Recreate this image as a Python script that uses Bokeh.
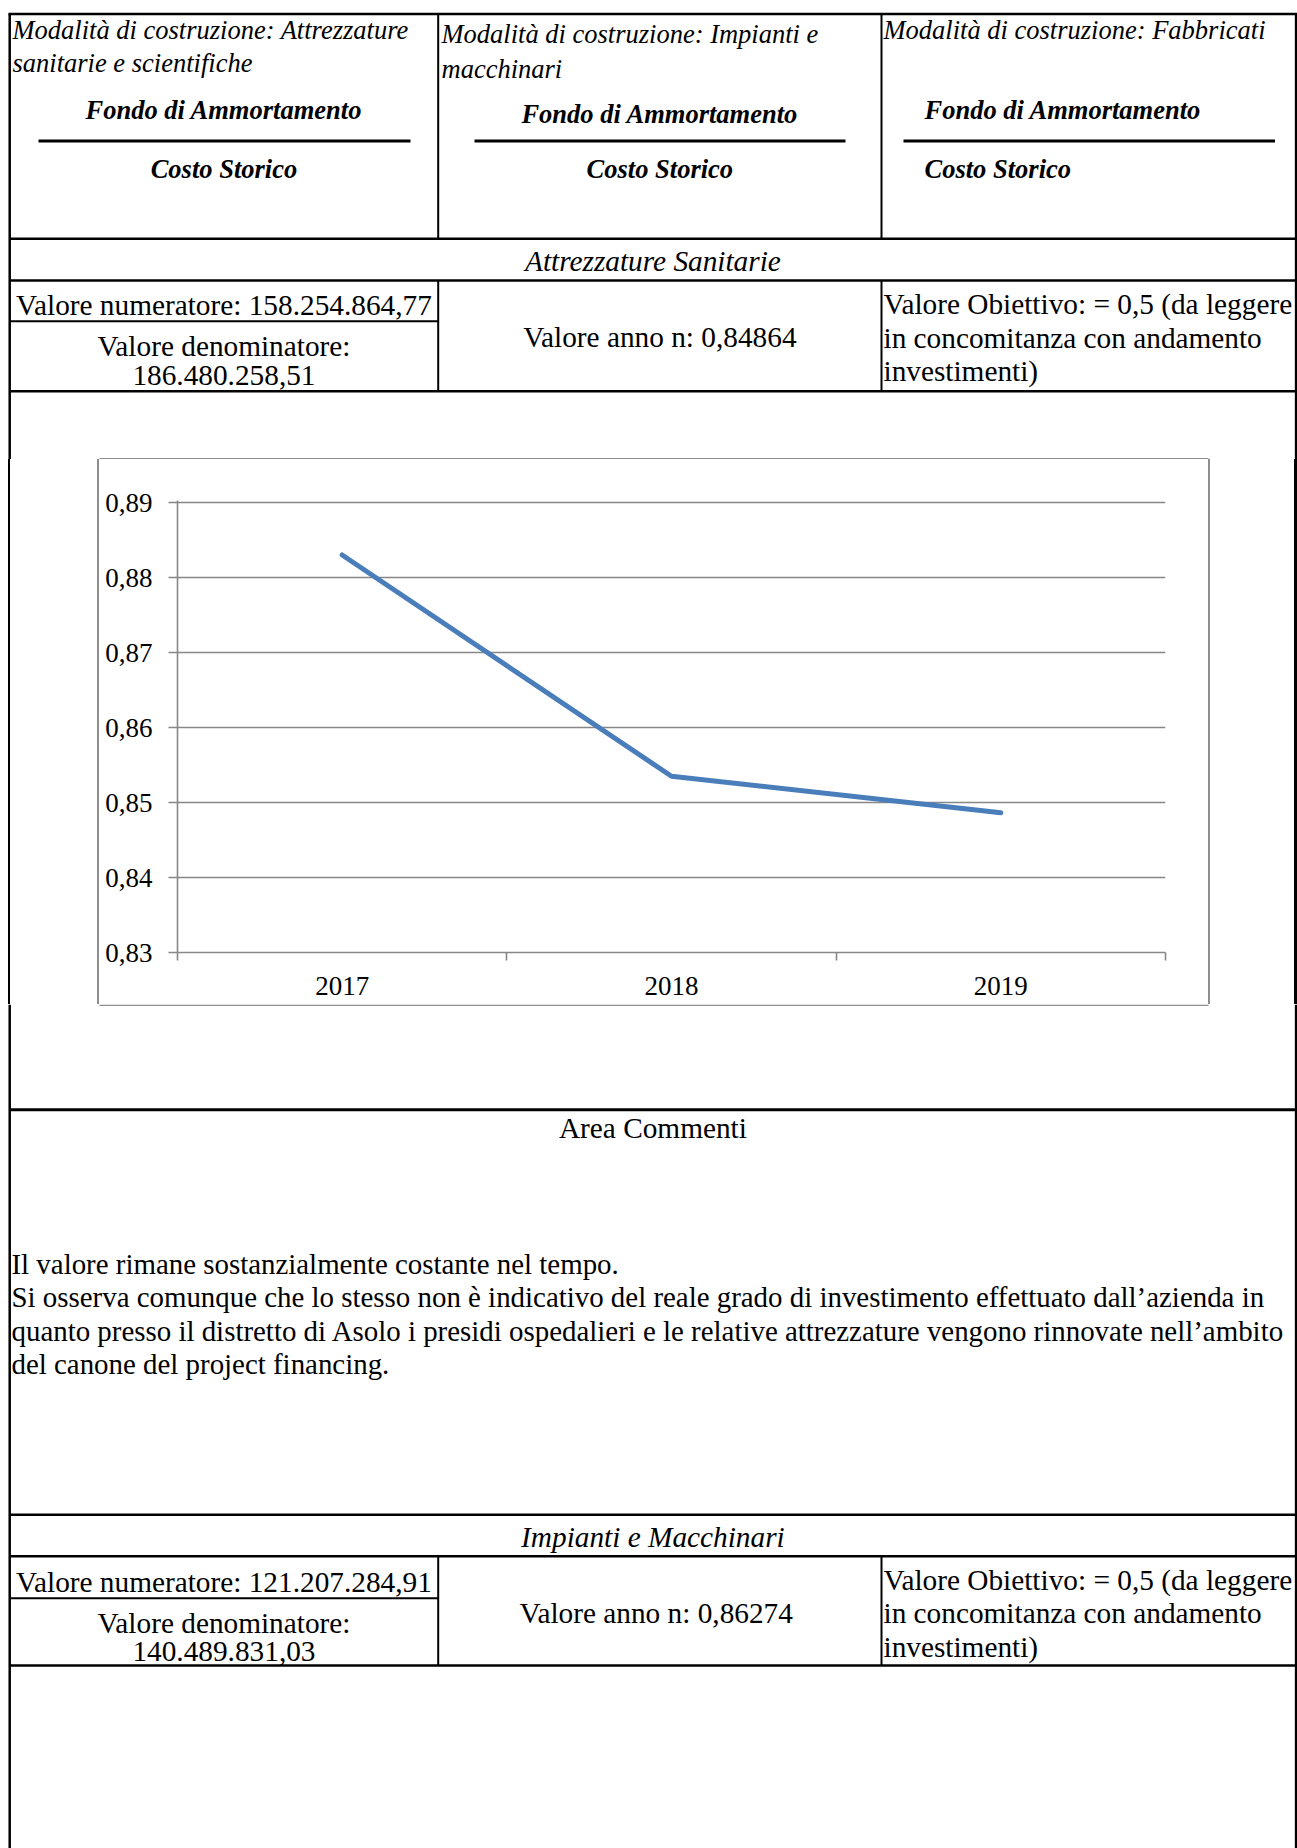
from bokeh.plotting import figure
from bokeh.layouts import column, row
from bokeh.models import Range1d, FixedTicker, CustomJSTickFormatter, ColumnDataSource, Div
from bokeh.core.properties import value
from bokeh.embed import file_html
from bokeh.resources import INLINE
import numpy as np

# ---------------- data ----------------
years = ["2017", "2018", "2019"]
ratio = [0.8830, 0.8535, 0.84864]
y_ticks = [0.83, 0.84, 0.85, 0.86, 0.87, 0.88, 0.89]

header_col1 = ["Modalità di costruzione: Attrezzature", "sanitarie e scientifiche"]
header_col2 = ["Modalità  di  costruzione:  Impianti  e", "macchinari"]
header_col3 = ["Modalità di costruzione: Fabbricati"]
numerator_label = "Fondo di Ammortamento"
denominator_label = "Costo Storico"

section_1 = "Attrezzature Sanitarie"
num_1 = "Valore numeratore: 158.254.864,77"
den_1 = ["Valore denominatore:", "186.480.258,51"]
year_1 = "Valore anno n: 0,84864"

target_lines = ["Valore Obiettivo: = 0,5 (da leggere",
                "in concomitanza con andamento",
                "investimenti)"]

comment_title = "Area Commenti"
comment_lines = [
    "Il valore rimane sostanzialmente costante nel tempo.",
    "Si osserva comunque che lo stesso non è  indicativo del reale grado di investimento effettuato dall’azienda in",
    "quanto presso il distretto di Asolo i presidi ospedalieri e le relative attrezzature vengono rinnovate nell’ambito",
    "del canone del project financing.",
]

section_2 = "Impianti e Macchinari"
num_2 = "Valore numeratore: 121.207.284,91"
den_2 = ["Valore denominatore:", "140.489.831,03"]
year_2 = "Valore anno n:  0,86274"

# ---------------- page geometry (page pixels) ----------------
PX0, PX1, PY0, PY1 = 0, 1297, 0, 1848
BX0, BX1, BY0, BY1 = 99, 1208, 459, 1004      # chart box
XL, XR = 9.2, 1295.6                         # table outer borders
C1, C2 = 437.7, 881.0                        # column dividers
MID1 = (XL + C1) / 2
MID2 = (C1 + C2) / 2
MIDT = (XL + XR) / 2
TOFF = 9.5                                   # text baseline correction

SERIF = value("Liberation Serif")
BODY = "29.3px"
COMM = "28.9px"
HEAD = "26.5px"
GRAY = "#878787"
BOXGRAY = "#8e8e8e"


def page_fig(x0, x1, y0, y1):
    p = figure(width=int(round(x1 - x0)), height=int(round(y1 - y0)),
               x_range=Range1d(x0, x1), y_range=Range1d(y1, y0),
               x_axis_type=None, y_axis_type=None,
               toolbar_location=None, tools="", output_backend="svg",
               min_border=0, outline_line_color=None,
               background_fill_color="white", border_fill_color="white")
    p.grid.visible = False
    return p


def lines(p, segs, width, color="black"):
    src = ColumnDataSource(dict(x0=[s[0] for s in segs], y0=[s[1] for s in segs],
                                x1=[s[2] for s in segs], y1=[s[3] for s in segs]))
    p.segment(x0="x0", y0="y0", x1="x1", y1="y1", source=src,
              line_color=color, line_width=width, line_cap="butt")


def txt(p, x, y, s, size=BODY, style="normal", align="left"):
    p.text(x=[x], y=[y - TOFF], text=[s], text_font=SERIF, text_font_size=size,
           text_font_style=style, text_align=align, text_baseline="alphabetic",
           text_color="black")


# ---------------- top part ----------------
top = page_fig(PX0, PX1, PY0, BY0)
lines(top, [(XL - 1.25, 13.5, XR + 1.25, 13.5),
            (XL, 13.5, XL, BY0), (XR, 13.5, XR, BY0),
            (XL, 238.3, XR, 238.3), (XL, 280.0, XR, 280.0), (XL, 390.7, XR, 390.7)], 2.5)
lines(top, [(C1, 13.5, C1, 238.3), (C2, 13.5, C2, 238.3),
            (C1, 280.0, C1, 390.7), (C2, 280.0, C2, 390.7),
            (XL, 320.7, C1, 320.7)], 2.0)
lines(top, [(38, 140.5, 410, 140.5), (474, 140.5, 845, 140.5), (903, 140.5, 1274.5, 140.5)], 3.0)
lines(top, [(BX0, BY0 - 0.8, BX1, BY0 - 0.8)], 1.6, BOXGRAY)

# header column 1
txt(top, 12, 38.5, header_col1[0], HEAD, "italic")
txt(top, 12, 72, header_col1[1], HEAD, "italic")
txt(top, MID1, 119, numerator_label, HEAD, "bold italic", "center")
txt(top, MID1, 177.5, denominator_label, HEAD, "bold italic", "center")
# header column 2
txt(top, 441, 43, header_col2[0], HEAD, "italic")
txt(top, 441, 78, header_col2[1], HEAD, "italic")
txt(top, MID2, 123, numerator_label, HEAD, "bold italic", "center")
txt(top, MID2, 177.5, denominator_label, HEAD, "bold italic", "center")
# header column 3
txt(top, 883, 38.5, header_col3[0], HEAD, "italic")
txt(top, 924, 119, numerator_label, HEAD, "bold italic")
txt(top, 924, 177.5, denominator_label, HEAD, "bold italic")

txt(top, MIDT, 269.5, section_1, BODY, "italic", "center")
txt(top, MID1, 314, num_1, BODY, "normal", "center")
txt(top, MID1, 355, den_1[0], BODY, "normal", "center")
txt(top, MID1, 384, den_1[1], BODY, "normal", "center")
txt(top, MID2, 346, year_1, BODY, "normal", "center")
for i, s in enumerate(target_lines):
    txt(top, 883, [313, 346.5, 380][i], s)

# ---------------- chart row ----------------
left = Div(text="", width=BX0 - PX0, height=BY1 - BY0, styles={
    "background": ("linear-gradient(to right, transparent 8px, black 8px, black 10.5px, "
                   "transparent 10.5px, transparent 97.4px, %s 97.4px, %s 99px)" % (BOXGRAY, BOXGRAY)),
    "margin": "0", "padding": "0"})
right = Div(text="", width=PX1 - BX1, height=BY1 - BY0, styles={
    "background": ("linear-gradient(to right, %s 0px, %s 1.6px, transparent 1.6px, "
                   "transparent 86.35px, black 86.35px, black 88.85px, transparent 88.85px)" % (BOXGRAY, BOXGRAY)),
    "margin": "0", "padding": "0"})

# frame: 452 px tall, 0.83 on the bottom edge, 0.89 two pixels below the top edge
y_top = y_ticks[-1] + (y_ticks[-1] - y_ticks[0]) * 2.0 / 450.0
chart = figure(width=BX1 - BX0, height=BY1 - BY0,
               x_range=Range1d(0, len(years)), y_range=Range1d(y_ticks[0], y_top),
               toolbar_location=None, tools="", output_backend="svg",
               min_border_left=78, min_border_right=43, min_border_top=41, min_border_bottom=52,
               outline_line_color=None, background_fill_color="white", border_fill_color="white")

xs = np.arange(len(years)) + 0.5
src = ColumnDataSource(dict(x=xs, y=ratio, year=years))
chart.line(x="x", y="y", source=src, line_color="#4A7EBB", line_width=5,
           line_cap="round", line_join="round")

xa = chart.xaxis[0]
xa.ticker = FixedTicker(ticks=list(xs), minor_ticks=list(range(len(years) + 1)))
xa.formatter = CustomJSTickFormatter(args=dict(labels=years),
                                     code="return labels[Math.round(tick - 0.5)];")
xa.major_tick_out = 0
xa.major_tick_in = 0
xa.minor_tick_out = 8
xa.minor_tick_in = 0
xa.minor_tick_line_color = GRAY
xa.minor_tick_line_width = 1.6
xa.axis_line_color = GRAY
xa.axis_line_width = 1.6
xa.major_label_standoff = 16
xa.major_label_text_font = "Liberation Serif"
xa.major_label_text_font_size = "27px"
xa.major_label_text_color = "black"

ya = chart.yaxis[0]
ya.ticker = FixedTicker(ticks=y_ticks)
ya.formatter = CustomJSTickFormatter(code="return tick.toFixed(2).replace('.', ',');")
ya.major_tick_out = 9
ya.major_tick_in = 0
ya.minor_tick_out = 0
ya.minor_tick_in = 0
ya.major_tick_line_color = GRAY
ya.major_tick_line_width = 1.6
ya.axis_line_color = GRAY
ya.axis_line_width = 1.6
ya.major_label_standoff = 16
ya.major_label_text_font = "Liberation Serif"
ya.major_label_text_font_size = "27px"
ya.major_label_text_color = "black"

chart.xgrid.visible = False
chart.ygrid.ticker = FixedTicker(ticks=y_ticks)
chart.ygrid.grid_line_color = GRAY
chart.ygrid.grid_line_width = 1.6

# ---------------- bottom part ----------------
bot = page_fig(PX0, PX1, BY1, PY1)
lines(bot, [(BX0, BY1 + 0.8, BX1, BY1 + 0.8)], 1.6, BOXGRAY)
lines(bot, [(XL, BY1, XL, PY1), (XR, BY1, XR, PY1)], 2.5)
lines(bot, [(XL, 1109.3, XR, 1109.3)], 3.0)
lines(bot, [(XL, 1514.3, XR, 1514.3), (XL, 1555.7, XR, 1555.7), (XL, 1665.0, XR, 1665.0)], 2.5)
lines(bot, [(C1, 1555.7, C1, 1665.0), (C2, 1555.7, C2, 1665.0),
            (XL, 1597.7, C1, 1597.7)], 2.0)

txt(bot, MIDT, 1137, comment_title, BODY, "normal", "center")
for i, s in enumerate(comment_lines):
    txt(bot, 11, [1272.5, 1306, 1339.5, 1373][i], s, COMM)

txt(bot, MIDT, 1545.5, section_2, BODY, "italic", "center")
txt(bot, MID1, 1590.5, num_2, BODY, "normal", "center")
txt(bot, MID1, 1632, den_2[0], BODY, "normal", "center")
txt(bot, MID1, 1660, den_2[1], BODY, "normal", "center")
txt(bot, MID2, 1622, year_2, BODY, "normal", "center")
for i, s in enumerate(target_lines):
    txt(bot, 883, [1589, 1622, 1655.5][i], s)

layout = column(top, row(left, chart, right), bot)

open("out.html", "w").write(file_html(layout, INLINE))
